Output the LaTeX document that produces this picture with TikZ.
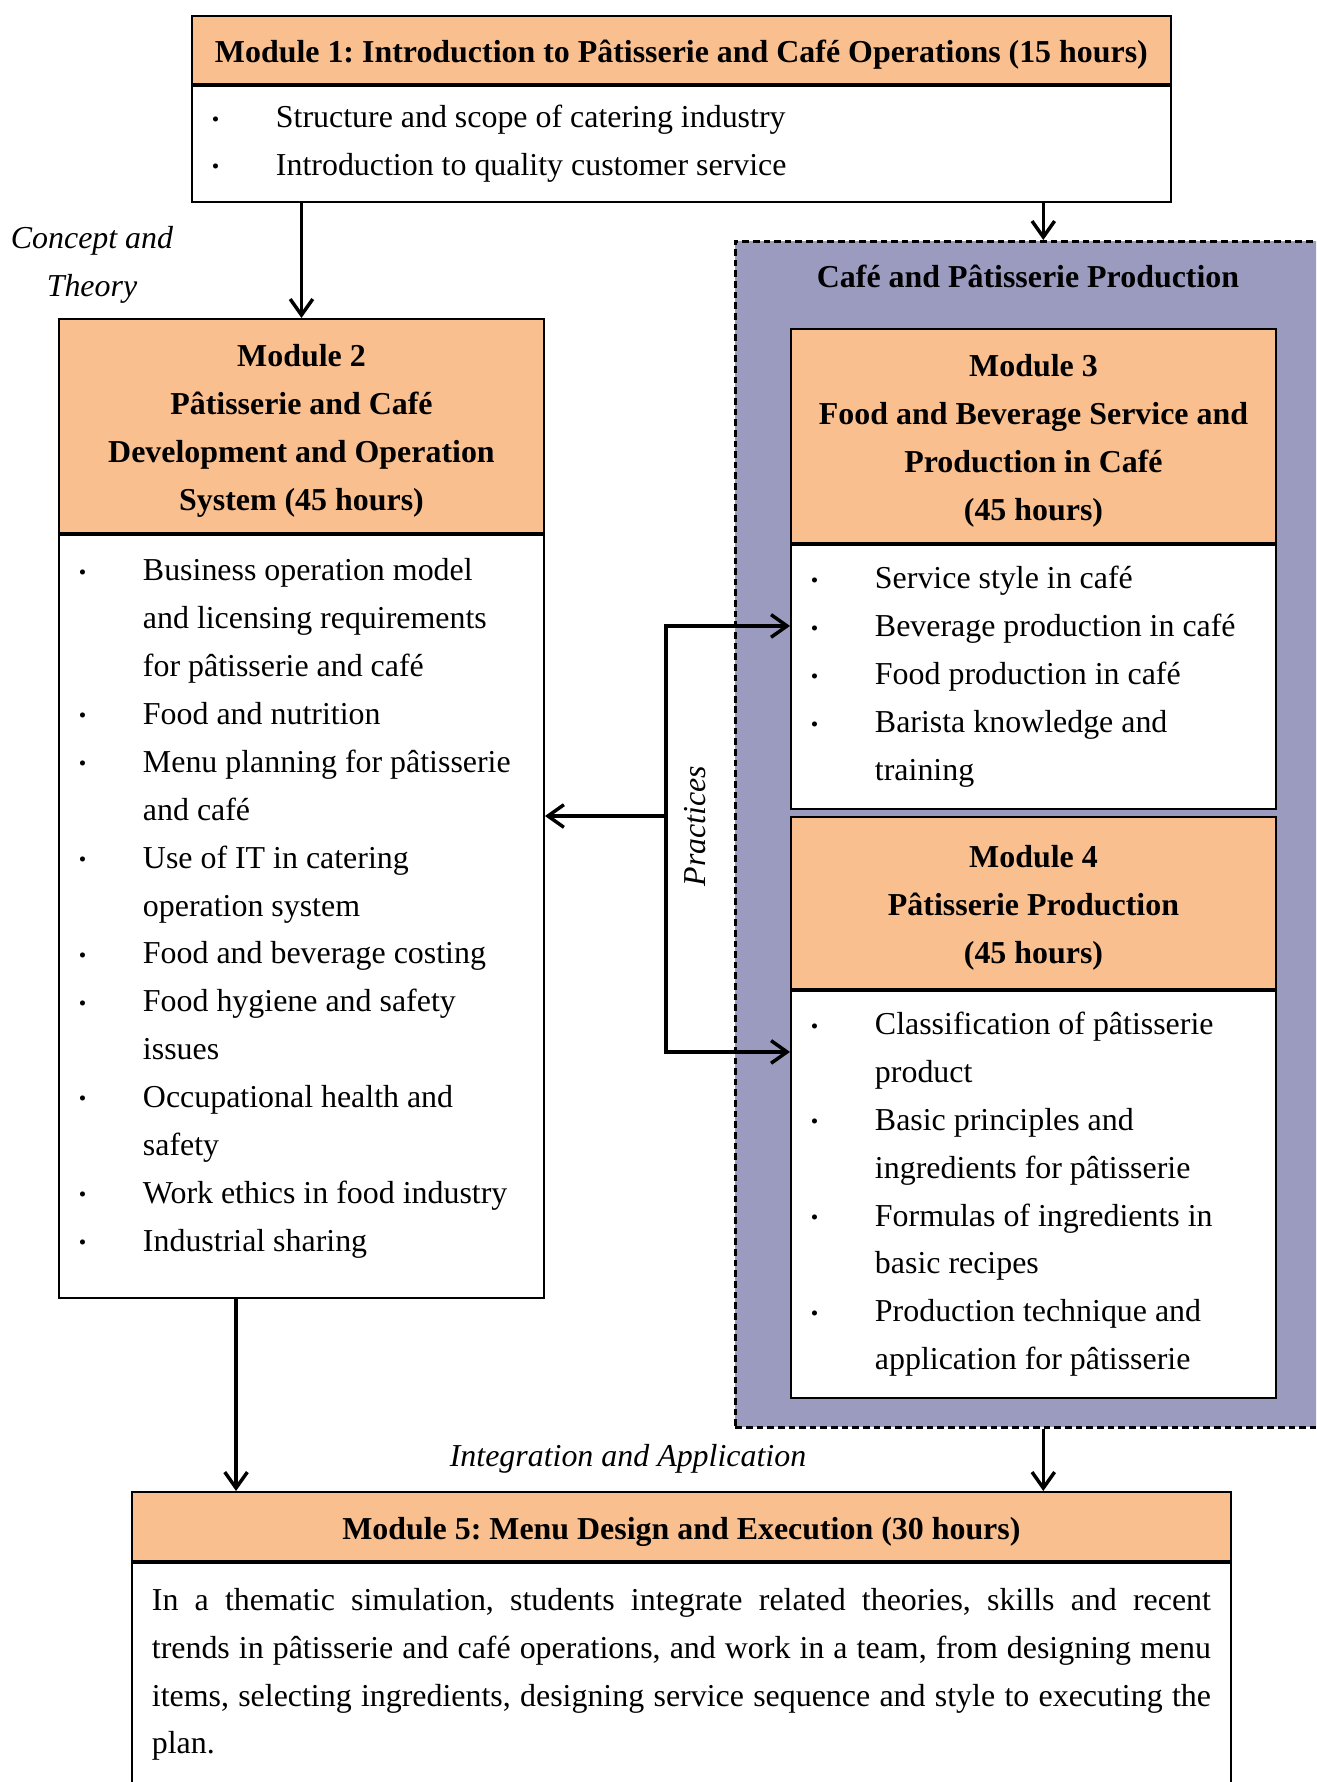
\documentclass[tikz,border=0pt]{standalone}
\usepackage{fontspec}
\setmainfont{Liberation Serif}
\usetikzlibrary{arrows.meta,calc}

\definecolor{modorange}{RGB}{250,191,143}
\definecolor{prodblue}{RGB}{154,155,190}

% bullet line and continuation line
\newcommand{\bl}{\hspace*{7.5pt}\makebox[24.1pt][l]{\raisebox{0.6pt}{\fontsize{8}{8}\selectfont\textbullet}}}
\newcommand{\cl}{\hspace*{31.6pt}}
\frenchspacing

\begin{document}
\begin{tikzpicture}[x=0.376pt, y=-0.376pt, every node/.style={font=\fontsize{12}{18}\selectfont}, >={Straight Barb[length=6pt,width=8.5pt]},
	head/.style={draw, line width=0.7pt, fill=modorange, font=\fontsize{12}{18}\selectfont\bfseries, align=flush center, anchor=north west, inner sep=0pt, execute at begin node={\rule{0pt}{12.2pt}}},
	body/.style={draw, line width=0.7pt, fill=white, align=flush left, anchor=north west, inner xsep=0pt, inner ysep=0pt},
	arr/.style={->, line width=1.3pt},
	note/.style={font=\fontsize{12}{18}\selectfont\itshape, align=flush center}]
	\useasboundingbox (0,0) rectangle (1316,1782);
	\clip (0,0) rectangle (1316,1782);
	\fill[white] (0,0) rectangle (1316,1782);
	% production frame
	\node[draw, line width=1pt, dash pattern=on 2.5pt off 1.5pt, fill=prodblue, minimum width=231.6pt, minimum height=445.9pt, anchor=north west, inner sep=0pt] (prod) at (734,240) {};
	\node[font=\fontsize{12}{18}\selectfont\bfseries] (prodtitle) at (1028,276) {Café and Pâtisserie Production};
	% module 1
	\node[head, text width=368.1pt, minimum height=25.6pt] (m1head) at (191,15) {Module 1: Introduction to Pâtisserie and Café Operations (15 hours)};
	\node[body, text width=368.1pt, minimum height=43.6pt] (m1body) at (m1head.south west) {\bl Structure and scope of catering industry\\
		\bl Introduction to quality customer service};
	% module 2
	\node[head, text width=182.4pt, minimum height=80.5pt] (m2head) at (58,318) {Module 2\\Pâtisserie and Café\\Development and Operation\\System (45 hours)};
	\node[body, text width=182.4pt, minimum height=286.9pt] (m2body) at (m2head.south west) {\bl Business operation model\\
		\cl and licensing requirements\\
		\cl for pâtisserie and café\\
		\bl Food and nutrition\\
		\bl Menu planning for pâtisserie\\
		\cl and café\\
		\bl Use of IT in catering\\
		\cl operation system\\
		\bl Food and beverage costing\\
		\bl Food hygiene and safety\\
		\cl issues\\
		\bl Occupational health and\\
		\cl safety\\
		\bl Work ethics in food industry\\
		\bl Industrial sharing\rule[-8.6pt]{0pt}{1pt}};
	% module 3
	\node[head, text width=182.4pt, minimum height=80.5pt] (m3head) at (790,328) {Module 3\\Food and Beverage Service and\\Production in Café\\(45 hours)};
	\node[body, text width=182.4pt, minimum height=99.3pt] (m3body) at (m3head.south west) {\bl Service style in café\\
		\bl Beverage production in café\\
		\bl Food production in café\\
		\bl Barista knowledge and\\
		\cl training};
	% module 4
	\node[head, text width=182.4pt, minimum height=64.7pt] (m4head) at (790,816) {Module 4\\Pâtisserie Production\\(45 hours)};
	\node[body, text width=182.4pt, minimum height=153pt] (m4body) at (m4head.south west) {\bl Classification of pâtisserie\\
		\cl product\\
		\bl Basic principles and\\
		\cl ingredients for pâtisserie\\
		\bl Formulas of ingredients in\\
		\cl basic recipes\\
		\bl Production technique and\\
		\cl application for pâtisserie};
	% module 5
	\node[head, text width=413.2pt, minimum height=25.9pt] (m5head) at (131,1491) {Module 5: Menu Design and Execution (30 hours)};
	\node[body, text width=398.2pt, inner xsep=7.5pt, minimum height=84pt] (m5body) at (m5head.south west) {\makebox[398.2pt][s]{In a thematic simulation, students integrate related theories, skills and recent}\\
		\makebox[398.2pt][s]{trends in pâtisserie and café operations, and work in a team, from designing menu}\\
		\makebox[398.2pt][s]{items, selecting ingredients, designing service sequence and style to executing the}\\
		plan.};
	% labels
	\node[note] (concept) at (92,265) {Concept and\\Theory};
	\node[note, rotate=90] (practices) at (695,826) {Practices};
	\node[note] (integ) at (628,1459) {Integration and Application};
	% arrows
	\draw[arr] (m1body.south -| m2head.north) -- (m2head.north);
	\draw[arr] (m1body.south -| prod.north) -- (prod.north);
	\coordinate (fork) at (666,816);
	\draw[arr] (fork) -- (fork -| m2body.east);
	\draw[arr] (fork) |- ($(m3body.north west)+(0,82)$);
	\draw[arr] (fork) |- ($(m4body.north west)+(0,62)$);
	\coordinate (m2out) at ([xshift=-24.6pt]m2body.south);
	\draw[arr] (m2out) -- (m2out |- m5head.north);
	\draw[arr] (prod.south) -- (prod.south |- m5head.north);
\end{tikzpicture}
\end{document}
